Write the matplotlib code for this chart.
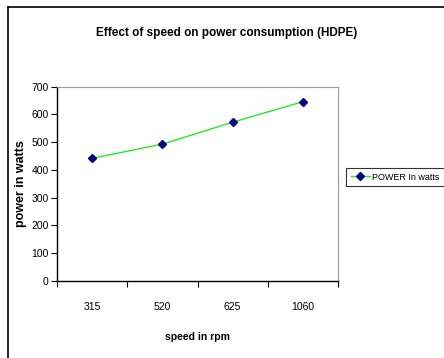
import matplotlib
matplotlib.use("Agg")
import matplotlib.pyplot as plt
from matplotlib.lines import Line2D

speeds = ["315", "520", "625", "1060"]
power = [442, 493, 572, 646]
yticks = [0, 100, 200, 300, 400, 500, 600, 700]

plt.rcParams['font.family'] = ["Liberation Sans", "DejaVu Sans"]

fig = plt.figure(figsize=(4.44, 3.58), dpi=100)
ax = fig.add_axes([57/444, 1-281/358, (338-57)/444, (281-86.7)/358])

x = list(range(len(speeds)))
ax.plot(x, power, color="#22ee22", lw=1.0, marker="D", markersize=4,
        markerfacecolor="#000080", markeredgecolor="#000080", label="POWER In watts", zorder=3)

ax.set_xlim(-0.5, len(speeds) - 0.5)
ax.set_ylim(0, 700)
ax.set_yticks(yticks)
ax.set_yticklabels([str(v) for v in yticks], fontsize=7.5)
ax.set_xticks([i - 0.5 for i in range(len(speeds) + 1)])
ax.set_xticklabels([])
ax.set_xticks(x, minor=True)
ax.set_xticklabels(speeds, minor=True, fontsize=7.5)
ax.tick_params(axis="x", which="minor", length=0, pad=15)
ax.tick_params(axis="x", which="major", length=4, direction="out", color="black")
ax.tick_params(axis="y", length=4, direction="out", pad=2)

for s in ["top", "right"]:
    ax.spines[s].set_color("#999999")
    ax.spines[s].set_linewidth(0.8)
for s in ["left", "bottom"]:
    ax.spines[s].set_color("black")
    ax.spines[s].set_linewidth(1.0)

ax.set_xlabel("speed in rpm", fontsize=7.5, fontweight="bold")
ax.xaxis.set_label_coords(0.5, -(337 - 281) / (281 - 86.7))
ax.xaxis.label.set_va("center")
ax.set_ylabel("power in watts", fontsize=9, fontweight="bold")
ax.yaxis.set_label_coords((27 - 57) / (338 - 57), 0.5)

fig.text(227/444, 1-33/358, "Effect of speed on power consumption (HDPE)",
         ha="center", va="center", fontsize=8.5, fontweight="bold")

leg = fig.legend(handles=[Line2D([0], [0], color="#22ee22", lw=1.0, marker="D", markersize=4,
                                 markerfacecolor="#000080", markeredgecolor="#000080")],
                 labels=["POWER In watts"], loc="upper left",
                 bbox_to_anchor=(346/444, 1-168/358), fontsize=6.5, frameon=True,
                 fancybox=False, borderpad=0.5, handlelength=2.2, handletextpad=0.15,
                 borderaxespad=0)
leg.get_frame().set_edgecolor("black")
leg.get_frame().set_linewidth(0.8)

# outer chart border (left and top visible)
fig.add_artist(Line2D([8/444, 8/444], [0, 1-7/358], color="black", lw=1.2, transform=fig.transFigure))
fig.add_artist(Line2D([8/444, 1], [1-7/358, 1-7/358], color="black", lw=1.2, transform=fig.transFigure))

fig.savefig("out.png", dpi=100)
